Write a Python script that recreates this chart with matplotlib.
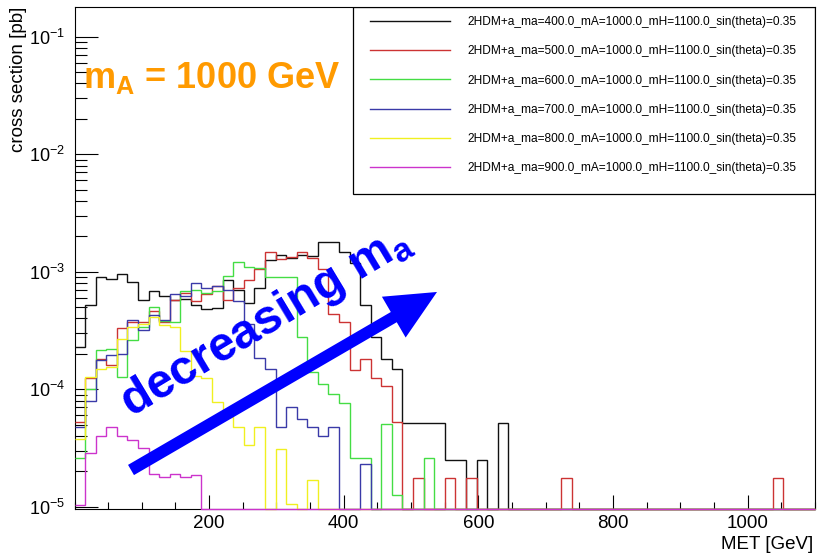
import numpy as np
import matplotlib
matplotlib.use("Agg")
import matplotlib.pyplot as plt
from matplotlib.patches import Rectangle
from matplotlib.ticker import FixedLocator, LogLocator, MultipleLocator, NullFormatter

plt.rcParams["font.family"] = ["Liberation Sans", "DejaVu Sans"]
plt.rcParams["mathtext.fontset"] = "custom"
plt.rcParams["mathtext.rm"] = "Liberation Sans"
plt.rcParams["mathtext.it"] = "Liberation Sans:italic"
plt.rcParams["mathtext.bf"] = "Liberation Sans:bold"

# MET histogram binning: 70 bins over 0-1100 GeV
met_range = (0.0, 1100.0)
n_bins = 70

ma_values = [400.0, 500.0, 600.0, 700.0, 800.0, 900.0]
labels = [f"2HDM+a_ma={ma:.1f}_mA=1000.0_mH=1100.0_sin(theta)=0.35" for ma in ma_values]
colors = ["#111111", "#cc3333", "#44dd44", "#3a3aa8", "#f0f020", "#cc33cc"]

# cross section per bin [pb]
xs_ma400 = [
    2.3e-4, 5.2e-4, 9.1e-4, 8.6e-4, 9.6e-4, 8.2e-4, 5.7e-4, 6.9e-4, 6.2e-4, 5.7e-4,
    5.9e-4, 5.2e-4, 4.8e-4, 4.9e-4, 8.5e-4, 7.0e-4, 5.4e-4, 7.3e-4, 1.25e-3, 1.4e-3,
    1.3e-3, 1.4e-3, 1.35e-3, 1.78e-3, 1.78e-3, 1.47e-3, 1.18e-3, 5.2e-4, 2.8e-4, 1.8e-4,
    1.5e-4, 5.2e-5, 5.2e-5, 5.2e-5, 5.2e-5, 2.5e-5, 2.5e-5, 0, 2.5e-5, 0,
    5.2e-5, 0, 0, 0, 0, 0, 0, 0, 0, 0,
    0, 0, 0, 0, 0, 0, 0, 0, 0, 0,
    0, 0, 0, 0, 0, 0, 0, 0, 0, 0,
]
xs_ma500 = [
    5.3e-5, 1.25e-4, 1.8e-4, 1.6e-4, 3.3e-4, 3.7e-4, 3.7e-4, 4.6e-4, 3.7e-4, 5.75e-4,
    6.6e-4, 5.6e-4, 6.5e-4, 7.5e-4, 5.7e-4, 7.2e-4, 8.5e-4, 1.05e-3, 1.47e-3, 1.28e-3,
    1.33e-3, 1.46e-3, 1.3e-3, 1.05e-3, 4.4e-4, 3.7e-4, 1.46e-4, 1.8e-4, 1.24e-4, 1.07e-4,
    5.3e-5, 0, 1.77e-5, 0, 0, 1.77e-5, 0, 1.77e-5, 0, 0,
    0, 0, 0, 0, 0, 0, 1.77e-5, 0, 0, 0,
    0, 0, 0, 0, 0, 0, 0, 0, 0, 0,
    0, 0, 0, 0, 0, 0, 1.77e-5, 0, 0, 0,
]
xs_ma600 = [
    2.6e-5, 1.0e-4, 2.15e-4, 2.2e-4, 1.28e-4, 2.6e-4, 3.4e-4, 5.0e-4, 3.8e-4, 3.7e-4,
    6.8e-4, 7.0e-4, 6.6e-4, 6.8e-4, 9.2e-4, 1.2e-3, 1.1e-3, 1.08e-3, 9.1e-4, 9.0e-4,
    9.0e-4, 2.8e-4, 1.4e-4, 1.1e-4, 9.1e-5, 7.7e-5, 2.6e-5, 2.6e-5, 0, 5.1e-5,
    1.26e-5, 0, 0, 2.6e-5, 0, 0, 0, 0, 0, 0,
    0, 0, 0, 0, 0, 0, 0, 0, 0, 0,
    0, 0, 0, 0, 0, 0, 0, 0, 0, 0,
    0, 0, 0, 0, 0, 0, 0, 0, 0, 0,
]
xs_ma700 = [
    4.8e-5, 8.0e-5, 1.77e-4, 1.95e-4, 2.0e-4, 3.9e-4, 3.2e-4, 4.3e-4, 3.9e-4, 6.4e-4,
    6.2e-4, 8.0e-4, 7.3e-4, 7.6e-4, 7.0e-4, 5.6e-4, 3.6e-4, 1.83e-4, 1.5e-4, 4.8e-5,
    7.1e-5, 5.6e-5, 4.8e-5, 4.0e-5, 4.8e-5, 0, 0, 2.3e-5, 0, 0,
    0, 0, 0, 0, 0, 0, 0, 0, 0, 0,
    0, 0, 0, 0, 0, 0, 0, 0, 0, 0,
    0, 0, 0, 0, 0, 0, 0, 0, 0, 0,
    0, 0, 0, 0, 0, 0, 0, 0, 0, 0,
]
xs_ma800 = [
    3.8e-5, 1.28e-4, 1.5e-4, 1.55e-4, 2.7e-4, 3.4e-4, 3.6e-4, 4.1e-4, 3.5e-4, 3.4e-4,
    2.1e-4, 1.3e-4, 1.25e-4, 7.8e-5, 5.8e-5, 4.8e-5, 3.35e-5, 4.8e-5, 0, 3.1e-5,
    1.05e-5, 0, 1.7e-5, 0, 0, 0, 0, 0, 0, 0,
    0, 0, 0, 0, 0, 0, 0, 0, 0, 0,
    0, 0, 0, 0, 0, 0, 0, 0, 0, 0,
    0, 0, 0, 0, 0, 0, 0, 0, 0, 0,
    0, 0, 0, 0, 0, 0, 0, 0, 0, 0,
]
xs_ma900 = [
    1.03e-5, 2.85e-5, 4.0e-5, 4.8e-5, 4.0e-5, 3.7e-5, 3.15e-5, 1.88e-5, 1.8e-5, 1.9e-5,
    1.8e-5, 1.85e-5, 0, 0, 0, 0, 0, 0, 0, 0,
    0, 0, 0, 0, 0, 0, 0, 0, 0, 0,
    0, 0, 0, 0, 0, 0, 0, 0, 0, 0,
    0, 0, 0, 0, 0, 0, 0, 0, 0, 0,
    0, 0, 0, 0, 0, 0, 0, 0, 0, 0,
    0, 0, 0, 0, 0, 0, 0, 0, 0, 0,
]
series = [xs_ma400, xs_ma500, xs_ma600, xs_ma700, xs_ma800, xs_ma900]

x_major_ticks = [200, 400, 600, 800, 1000]
y_limits = (9.56e-6, 0.179)

fig = plt.figure(figsize=(8.17, 5.55), dpi=100)
ax = fig.add_axes([0.0912, 0.0829, 0.9064, 0.9045])

edges = np.linspace(met_range[0], met_range[1], n_bins + 1)
for values, color, label in zip(series, colors, labels):
    v = np.asarray(values, dtype=float)
    # empty bins sit on the bottom of the frame, as ROOT draws them on a log axis
    v = np.where(v > 0, v, y_limits[0])
    ax.stairs(v, edges, baseline=None, color=color, lw=1.0, label=label, zorder=3, clip_on=False)

ax.set_xlim(*met_range)
ax.set_yscale("log")
ax.set_ylim(*y_limits)

for spine in ax.spines.values():
    spine.set_linewidth(0.8)

ax.xaxis.set_major_locator(FixedLocator(x_major_ticks))
ax.xaxis.set_minor_locator(MultipleLocator(50))
ax.yaxis.set_major_locator(LogLocator(base=10, numticks=10))
ax.yaxis.set_minor_locator(LogLocator(base=10, subs=np.arange(2, 10), numticks=30))
ax.yaxis.set_minor_formatter(NullFormatter())
ax.tick_params(axis="y", which="major", direction="in", length=16.5, width=0.8, right=False, labelsize=13, pad=7)
ax.tick_params(axis="y", which="minor", direction="in", length=8.5, width=0.8, right=False)
ax.tick_params(axis="x", which="major", direction="in", length=10, width=0.8, top=False, labelsize=13.5, pad=4)
ax.tick_params(axis="x", which="minor", direction="in", length=5, width=0.8, top=False)

ax.set_xlabel("MET [GeV]", fontsize=13.5, loc="right")
ax.xaxis.set_label_coords(0.9973, -0.0538)
ax.set_ylabel("cross section [pb]", fontsize=13.5, loc="top")
ax.yaxis.set_label_coords(-0.0635, 1.0)

# legend box in the upper right corner, like the ROOT TLegend
ax.add_patch(Rectangle((0.3757, 0.6269), 1 - 0.3757, 1 - 0.6269, transform=ax.transAxes,
                       fill=False, ec="black", lw=0.9, zorder=4))
ax.legend(loc="upper left", bbox_to_anchor=(0.399, 0.9815), frameon=False, fontsize=8.6,
          handlelength=6.67, handletextpad=1.5, labelspacing=1.44, borderpad=0, borderaxespad=0)

ax.text(0.0115, 0.8386, r"$\mathbf{m}_\mathbf{A}$ = 1000 GeV", transform=ax.transAxes,
        fontsize=26, fontweight="bold", color="#ff9a00", ha="left", va="baseline")
ax.text(0.076, 0.181, r"decreasing $\mathbf{m}_\mathbf{a}$", transform=ax.transAxes,
        fontsize=34.5, fontweight="bold", color="#0000ff", rotation=31,
        rotation_mode="anchor", ha="left", va="baseline", zorder=5)
ax.annotate("", xy=(0.4895, 0.4323), xytext=(0.0763, 0.0777), xycoords="axes fraction",
            arrowprops=dict(arrowstyle="simple,head_length=3.6,head_width=3.4,tail_width=0.85",
                            mutation_scale=10, color="#0000ff", lw=0, shrinkA=0, shrinkB=0),
            zorder=5)

fig.savefig("out.png", dpi=100)
